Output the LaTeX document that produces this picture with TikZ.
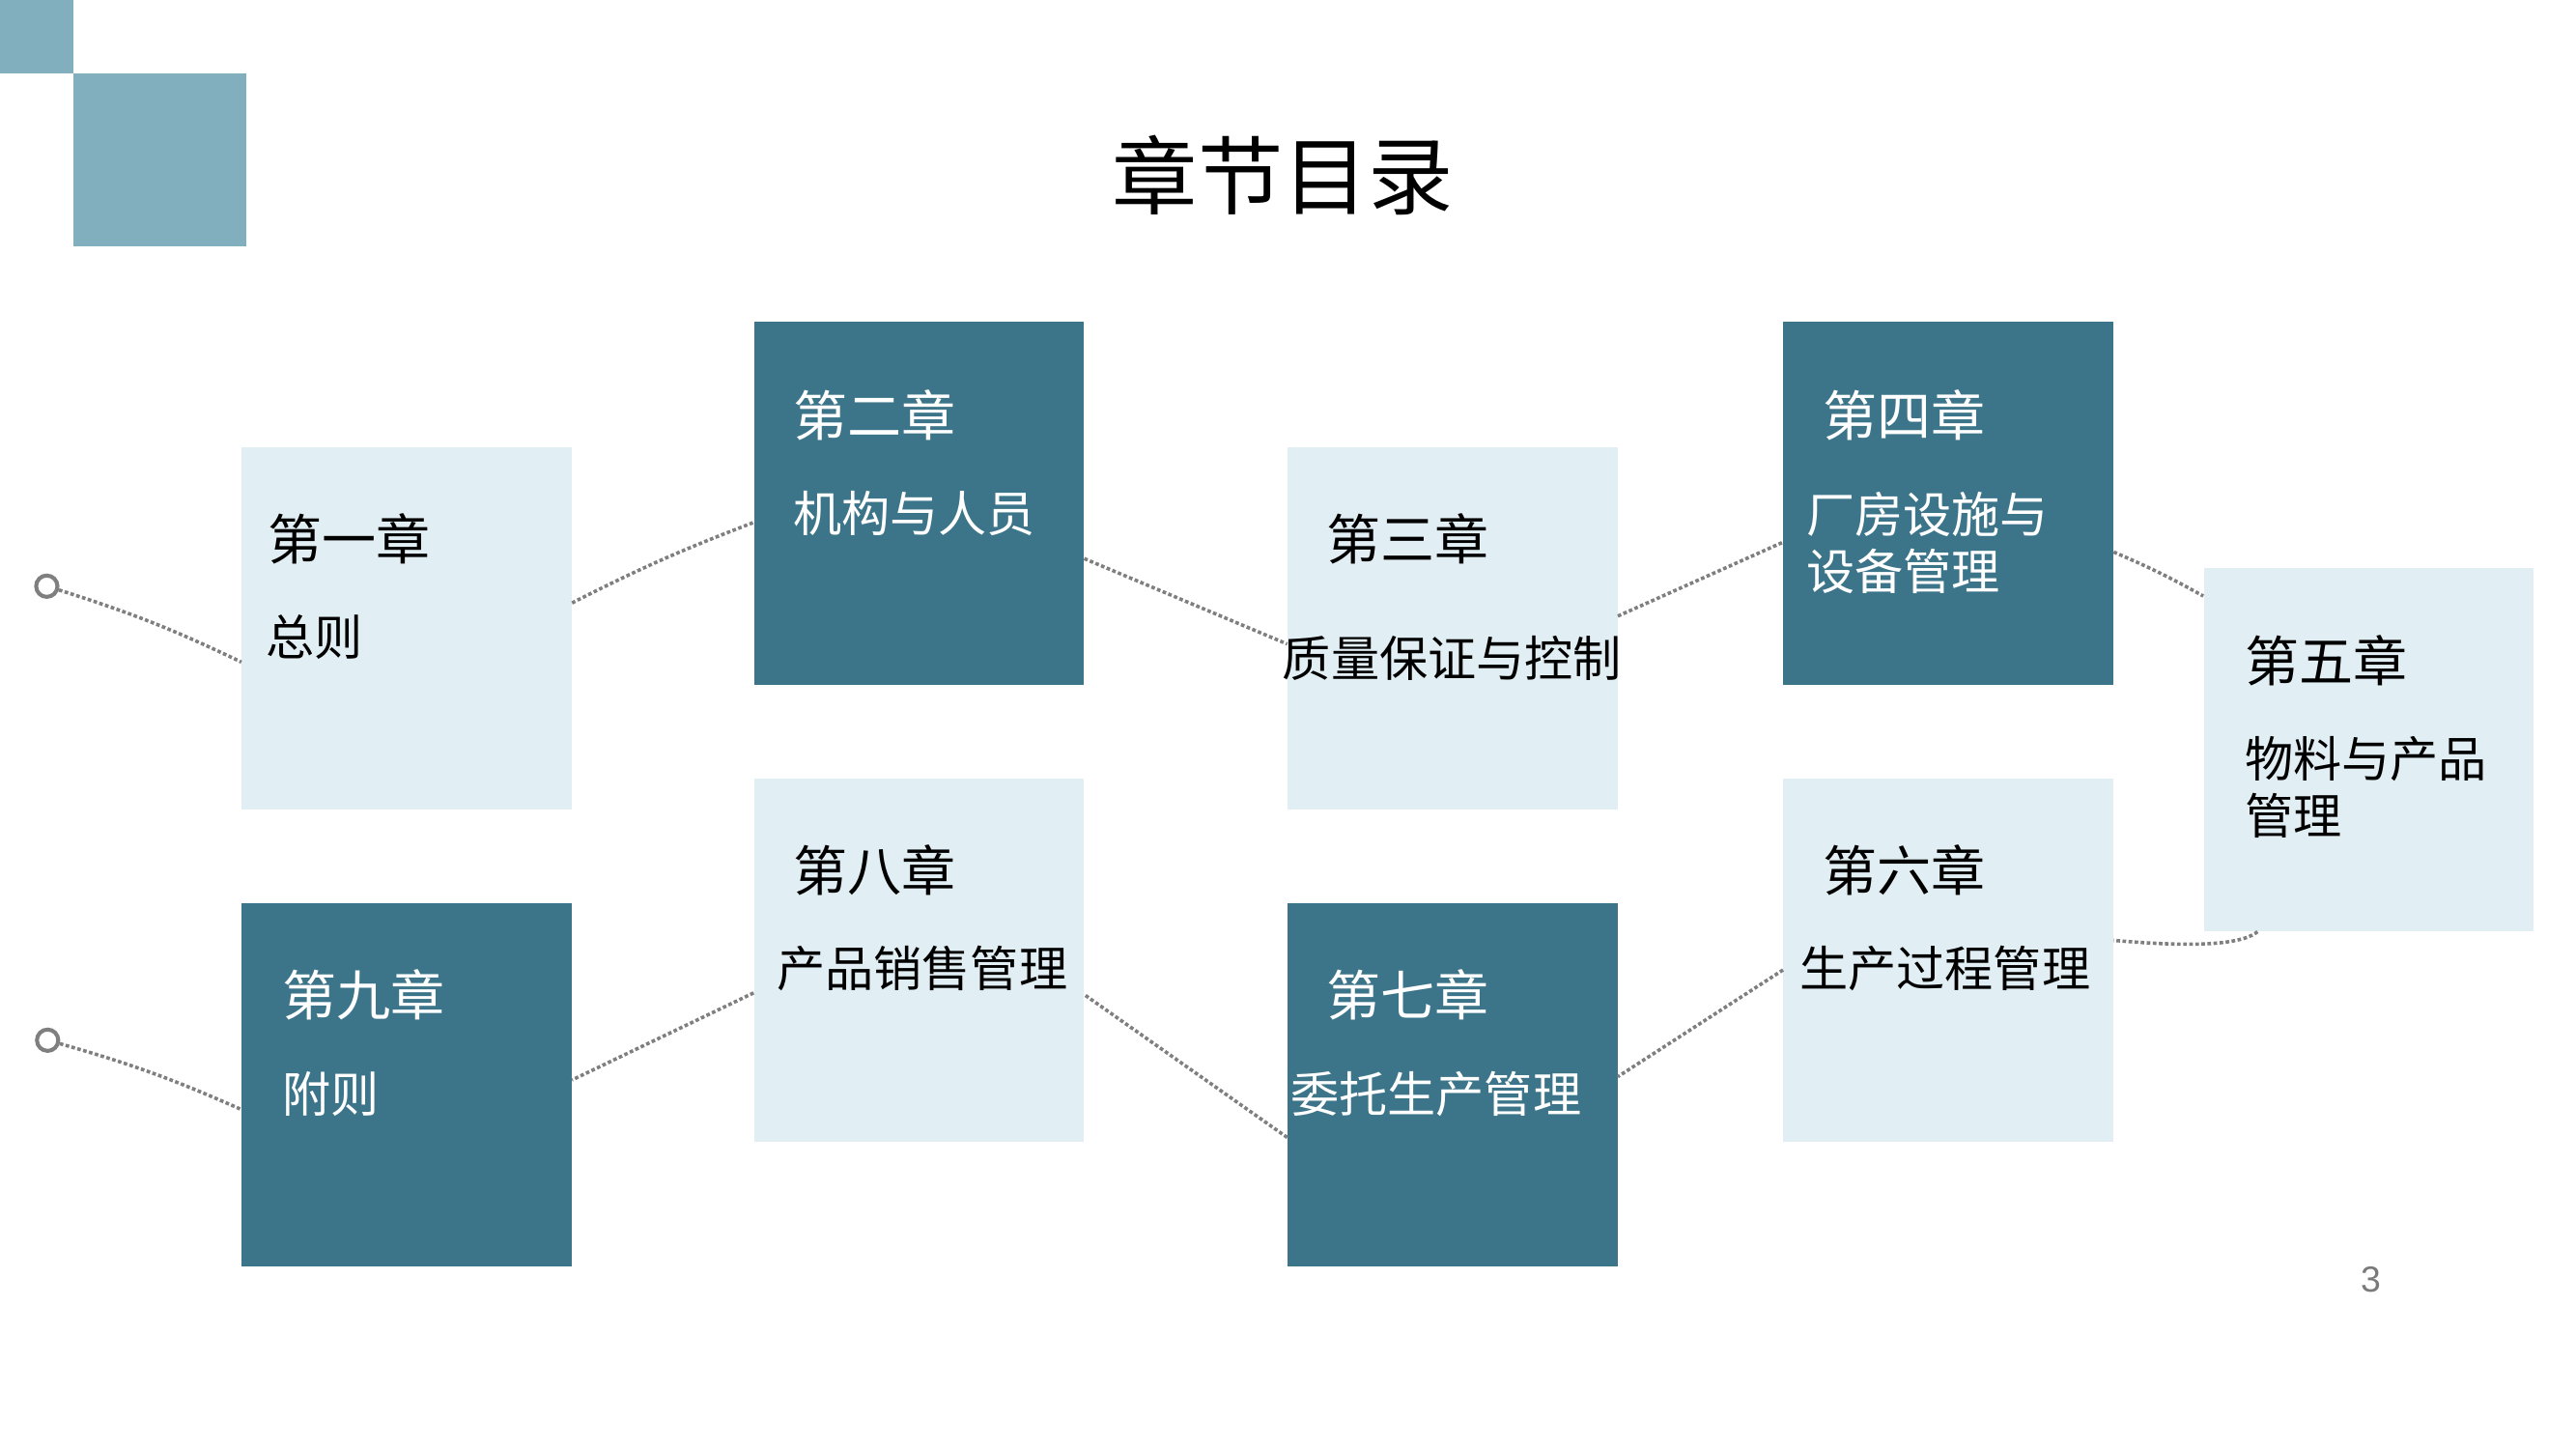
\documentclass[tikz,border=0pt]{standalone}
\usepackage{fontspec}
\setmainfont{Noto Sans CJK SC}
\newfontfamily\cjk{Noto Sans CJK SC}
\newfontfamily\numfont{Liberation Sans}
\definecolor{darkc}{HTML}{3C758A}
\definecolor{lightc}{HTML}{E1EEF3}
\definecolor{decoc}{HTML}{82AFBE}
\definecolor{linec}{HTML}{7F7F7F}
\definecolor{pagec}{HTML}{7A7A7A}
\begin{document}
\begin{tikzpicture}[x=1pt,y=-1pt,
  lightbox/.style={rectangle,fill=lightc,draw=none,minimum width=201pt,minimum height=221pt,anchor=north west,inner sep=0pt},
  darkbox/.style={lightbox,fill=darkc},
  head/.style={font=\cjk\fontsize{33}{40}\selectfont,anchor=west,inner sep=0pt},
  desc/.style={font=\cjk\fontsize{29.5}{35}\selectfont,anchor=west,inner sep=0pt,align=left},
  conn/.style={draw=linec,line width=2.1pt,dash pattern=on 2.2pt off 1.5pt},
  ring/.style={circle,draw=linec,line width=2.4pt,fill=white,minimum size=13pt,inner sep=0pt}]
\useasboundingbox (0,0) rectangle (1569,882);
% decoration squares
\fill[decoc] (0,0) rectangle (44.5,44.5);
\fill[decoc] (44.5,44.5) rectangle (150,150);
% title
\node[font=\cjk\fontsize{52}{60}\selectfont,inner sep=0pt] (title) at (781.5,107) {章节目录};
% boxes
\node[lightbox] (b1) at (147,272) {};
\node[darkbox]  (b2) at (459,196) {};
\node[lightbox] (b3) at (784,272) {};
\node[darkbox]  (b4) at (1086,196) {};
\node[lightbox] (b5) at (1342,346) {};
\node[lightbox] (b6) at (1086,474) {};
\node[darkbox]  (b7) at (784,550) {};
\node[lightbox] (b8) at (459,474) {};
\node[darkbox]  (b9) at (147,550) {};
% texts
\node[head] (h1) at (163,328) {第一章};
\node[desc] (d1) at (162,388) {总则};
\node[head,text=white] (h2) at (483,253) {第二章};
\node[desc,text=white] (d2) at (483,313) {机构与人员};
\node[head] (h3) at (808,328) {第三章};
\node[desc] (d3) at (781,401) {质量保证与控制};
\node[head,text=white] (h4) at (1110,253) {第四章};
\node[desc,text=white] (d4) at (1100,330.5) {厂房设施与\\设备管理};
\node[head] (h5) at (1367,402) {第五章};
\node[desc] (d5) at (1367,479.5) {物料与产品\\管理};
\node[head] (h6) at (1110,530) {第六章};
\node[desc] (d6) at (1096,590) {生产过程管理};
\node[head,text=white] (h7) at (808,606) {第七章};
\node[desc,text=white] (d7) at (786,666) {委托生产管理};
\node[head] (h8) at (483,530) {第八章};
\node[desc] (d8) at (473,590) {产品销售管理};
\node[head,text=white] (h9) at (172,606) {第九章};
\node[desc,text=white] (d9) at (172,666) {附则};
% page number
\node[font=\numfont\fontsize{22}{26}\selectfont,text=pagec,inner sep=0pt] (pg) at (1444,779) {3};
% rings
\node[ring] (c1) at (28.5,357) {};
\node[ring] (c2) at (29,633.5) {};
% connectors
\draw[conn] (c1) to[bend left=4] ([yshift=-20.5pt]b1.west);
\draw[conn] ([yshift=15.5pt]b1.east) to[bend left=3] ([yshift=-11.5pt]b2.west);
\draw[conn] ([yshift=-33.5pt]b2.east) -- ([yshift=-9.5pt]b3.west);
\draw[conn] ([yshift=7.5pt]b3.east) -- ([yshift=-23.5pt]b4.west);
\draw[conn] ([yshift=-29.5pt]b4.east) to[bend left=3] ([yshift=-17pt]b5.north west);
\draw[conn] ([xshift=33pt]b5.south west) .. controls +(-12,10) and +(35,3) .. ([yshift=12pt]b6.east);
\draw[conn] ([yshift=-6pt]b6.west) -- ([yshift=5pt]b7.east);
\draw[conn] ([yshift=-32pt]b7.west) -- ([yshift=-21pt]b8.east);
\draw[conn] ([yshift=-20pt]b8.west) -- ([yshift=3pt]b9.east);
\draw[conn] (c2) to[bend left=4] ([yshift=-15pt]b9.west);
\end{tikzpicture}
\end{document}
